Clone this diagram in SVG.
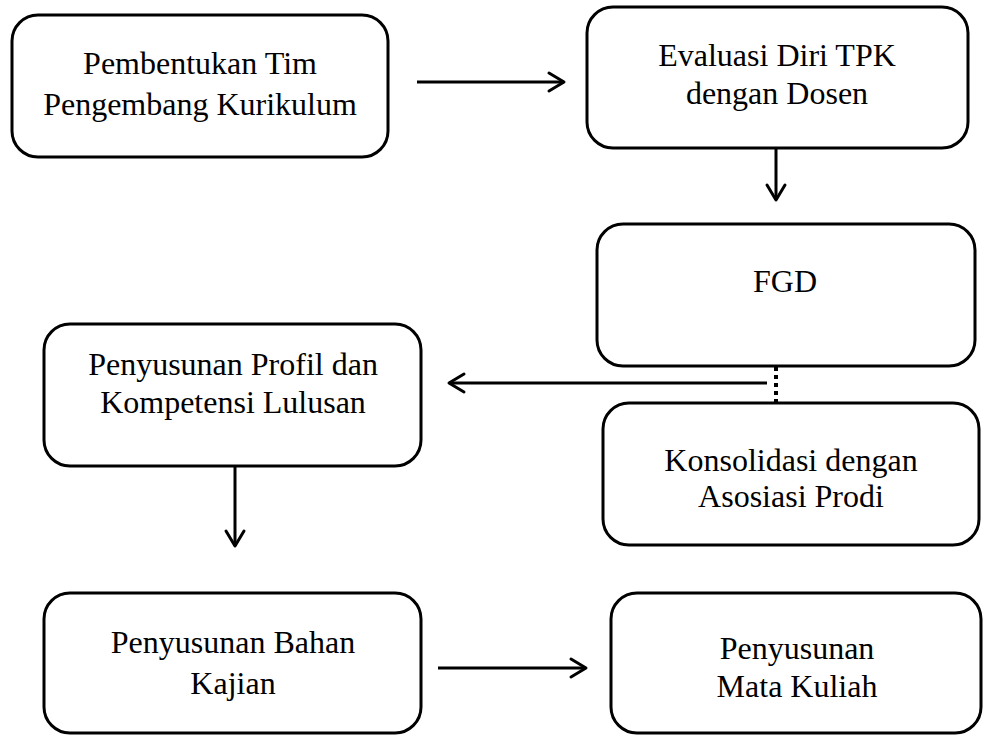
<svg xmlns="http://www.w3.org/2000/svg" width="983" height="735" viewBox="0 0 983 735">
<style>
.box{fill:#fff;stroke:#000;stroke-width:3}
.t{font-family:"Liberation Serif","Times New Roman",serif;font-size:32px;fill:#000;text-anchor:middle}
.c{fill:none;stroke:#000;stroke-width:3}
.h{fill:none;stroke:#000;stroke-width:3;stroke-linecap:round;stroke-linejoin:round}
</style>
<rect width="983" height="735" fill="#fff"/>
<g id="n1"><rect class="box" x="12" y="15" width="376" height="142" rx="26"/><text class="t" x="200" y="74">Pembentukan Tim</text><text class="t" x="200" y="115">Pengembang Kurikulum</text></g>
<g id="n2"><rect class="box" x="587" y="7" width="381" height="141" rx="26"/><text class="t" x="777" y="66">Evaluasi Diri TPK</text><text class="t" x="777" y="104">dengan Dosen</text></g>
<g id="n3"><rect class="box" x="597" y="224" width="378" height="142" rx="26"/><text class="t" x="785" y="292">FGD</text></g>
<g id="n4"><rect class="box" x="44" y="324" width="377" height="142" rx="26"/><text class="t" x="233" y="375">Penyusunan Profil dan</text><text class="t" x="233" y="413">Kompetensi Lulusan</text></g>
<g id="n5"><rect class="box" x="603" y="403" width="376" height="142" rx="26"/><text class="t" x="791" y="471">Konsolidasi dengan</text><text class="t" x="791" y="507">Asosiasi Prodi</text></g>
<g id="n6"><rect class="box" x="44" y="593" width="377" height="140" rx="26"/><text class="t" x="233" y="653">Penyusunan Bahan</text><text class="t" x="233" y="694">Kajian</text></g>
<g id="n7"><rect class="box" x="611" y="593" width="370" height="140" rx="26"/><text class="t" x="797" y="659">Penyusunan</text><text class="t" x="797" y="697">Mata Kuliah</text></g>
<g id="connectors">
<line class="c" x1="417" y1="82" x2="564" y2="82"/><polyline class="h" points="549,73 564,82 549,91"/>
<line class="c" x1="776" y1="148" x2="776" y2="200"/><polyline class="h" points="767,185 776,200 785,185"/>
<line x1="776" y1="367" x2="776" y2="403" stroke="#000" stroke-width="4" stroke-dasharray="4,4"/>
<line class="c" x1="767" y1="383" x2="449" y2="383"/><polyline class="h" points="464,374 449,383 464,392"/>
<line class="c" x1="235" y1="466" x2="235" y2="546"/><polyline class="h" points="226,531 235,546 244,531"/>
<line class="c" x1="438" y1="668" x2="586" y2="668"/><polyline class="h" points="571,659 586,668 571,677"/>
</g>
</svg>
